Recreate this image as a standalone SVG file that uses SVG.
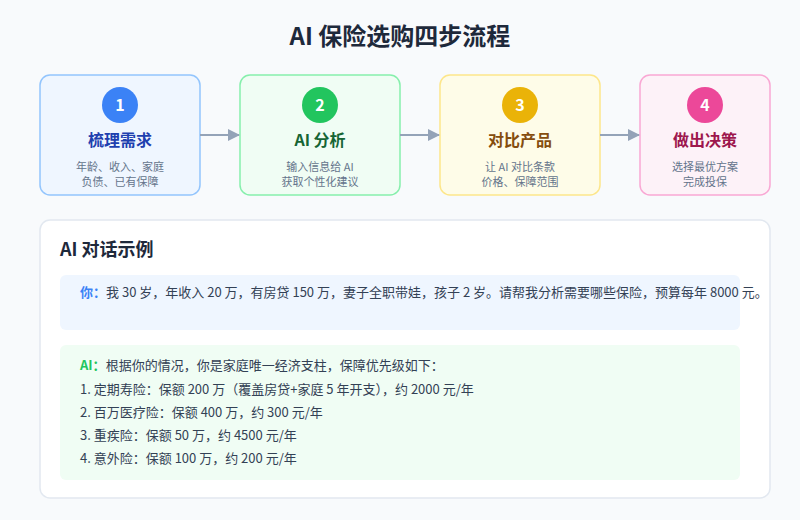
<svg xmlns="http://www.w3.org/2000/svg" width="800" height="520" viewBox="0 0 800 520">
  <style>
    text { font-family: "Noto Sans CJK SC", "Noto Sans", sans-serif; }
    .title { font-size: 24px; font-weight: 700; fill: #1e293b; text-anchor: middle; }
    .num { font-size: 16px; font-weight: 700; fill: #ffffff; text-anchor: middle; }
    .stitle { font-size: 16px; font-weight: 700; text-anchor: middle; }
    .sub { font-size: 11px; fill: #64748b; text-anchor: middle; }
    .conn { stroke: #94a3b8; stroke-width: 2; fill: none; }
    .body { font-size: 13px; fill: #334155; }
  </style>
  <defs>
    <marker id="arr" viewBox="0 0 12 12" refX="11" refY="6" markerWidth="12" markerHeight="12" markerUnits="userSpaceOnUse" orient="auto">
      <path d="M0,0 L12,6 L0,12 Z" fill="#94a3b8"/>
    </marker>
  </defs>
  <rect x="0" y="0" width="800" height="520" fill="#f8fafc"/>
  <text class="title" x="400" y="45">AI 保险选购四步流程</text>

  <g id="step1">
    <rect x="40" y="75" width="160" height="120" rx="10" fill="#eff6ff" stroke="#93c5fd" stroke-width="1.5"/>
    <circle cx="120" cy="105" r="18" fill="#3b82f6"/>
    <text class="num" x="120" y="111">1</text>
    <text class="stitle" x="120" y="146" fill="#1e40af">梳理需求</text>
    <text class="sub" x="120" y="171">年龄、收入、家庭</text>
    <text class="sub" x="120" y="186">负债、已有保障</text>
  </g>
  <g id="step2">
    <rect x="240" y="75" width="160" height="120" rx="10" fill="#f0fdf4" stroke="#86efac" stroke-width="1.5"/>
    <circle cx="320" cy="105" r="18" fill="#22c55e"/>
    <text class="num" x="320" y="111">2</text>
    <text class="stitle" x="320" y="146" fill="#166534">AI 分析</text>
    <text class="sub" x="320" y="171">输入信息给 AI</text>
    <text class="sub" x="320" y="186">获取个性化建议</text>
  </g>
  <g id="step3">
    <rect x="440" y="75" width="160" height="120" rx="10" fill="#fefce8" stroke="#fde68a" stroke-width="1.5"/>
    <circle cx="520" cy="105" r="18" fill="#eab308"/>
    <text class="num" x="520" y="111">3</text>
    <text class="stitle" x="520" y="146" fill="#854d0e">对比产品</text>
    <text class="sub" x="520" y="171">让 AI 对比条款</text>
    <text class="sub" x="520" y="186">价格、保障范围</text>
  </g>
  <g id="step4">
    <rect x="640" y="75" width="130" height="120" rx="10" fill="#fdf2f8" stroke="#f9a8d4" stroke-width="1.5"/>
    <circle cx="705" cy="105" r="18" fill="#ec4899"/>
    <text class="num" x="705" y="111">4</text>
    <text class="stitle" x="705" y="146" fill="#9d174d">做出决策</text>
    <text class="sub" x="705" y="171">选择最优方案</text>
    <text class="sub" x="705" y="186">完成投保</text>
  </g>

  <g id="connectors">
    <line class="conn" x1="200" y1="135" x2="239" y2="135" marker-end="url(#arr)"/>
    <line class="conn" x1="400" y1="135" x2="439" y2="135" marker-end="url(#arr)"/>
    <line class="conn" x1="600" y1="135" x2="639" y2="135" marker-end="url(#arr)"/>
  </g>

  <g id="chat">
    <rect x="40" y="220" width="730" height="278" rx="10" fill="#ffffff" stroke="#e2e8f0" stroke-width="1.5"/>
    <text x="60" y="256" font-size="18" font-weight="700" fill="#1e293b">AI 对话示例</text>
    <rect x="60" y="275" width="680" height="55" rx="6" fill="#eff6ff"/>
    <text class="body" x="80" y="297"><tspan fill="#3b82f6" font-weight="700">你：</tspan>我 30 岁，年收入 20 万，有房贷 150 万，妻子全职带娃，孩子 2 岁。请帮我分析需要哪些保险，预算每年 8000 元。</text>
    <rect x="60" y="345" width="680" height="135" rx="6" fill="#f0fdf4"/>
    <text class="body" x="80" y="370"><tspan fill="#22c55e" font-weight="700">AI：</tspan>根据你的情况，你是家庭唯一经济支柱，保障优先级如下：</text>
    <text class="body" x="80" y="394">1. 定期寿险：保额 200 万（覆盖房贷+家庭 5 年开支），约 2000 元/年</text>
    <text class="body" x="80" y="417">2. 百万医疗险：保额 400 万，约 300 元/年</text>
    <text class="body" x="80" y="440">3. 重疾险：保额 50 万，约 4500 元/年</text>
    <text class="body" x="80" y="463">4. 意外险：保额 100 万，约 200 元/年</text>
  </g>
</svg>
